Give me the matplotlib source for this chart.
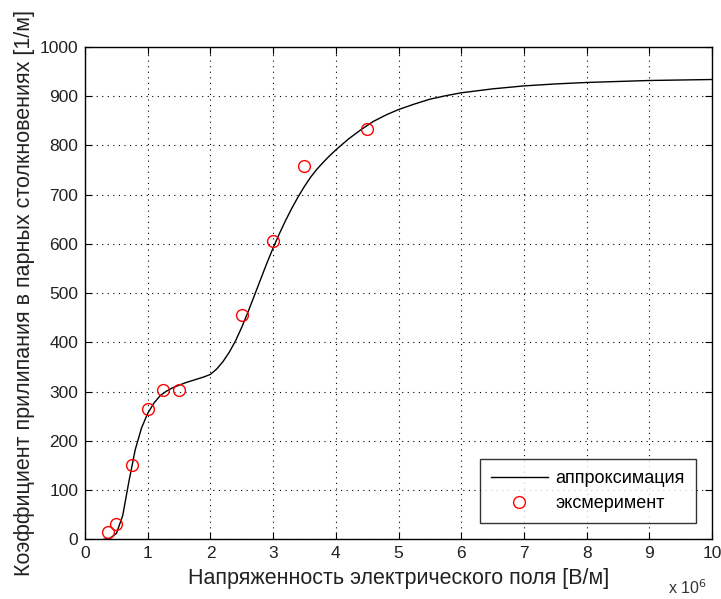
import matplotlib
matplotlib.use("Agg")
import matplotlib.pyplot as plt

plt.rcParams['font.family'] = ['Liberation Sans', 'DejaVu Sans']

# approximation curve (x in units of 1e6 V/m)
curve_x = [0.30, 0.40, 0.50, 0.60, 0.70, 0.80, 0.90, 1.00, 1.10, 1.20, 1.30, 1.40,
           1.50, 1.60, 1.70, 1.80, 1.90, 2.00, 2.10, 2.20, 2.30, 2.40, 2.50, 2.60,
           2.70, 2.80, 2.90, 3.00, 3.10, 3.20, 3.30, 3.40, 3.50, 3.60, 3.70, 3.80,
           3.90, 4.00, 4.20, 4.40, 4.60, 4.80, 5.00, 5.25, 5.50, 5.75, 6.00, 6.50,
           7.00, 7.50, 8.00, 8.50, 9.00, 9.50, 10.0]
curve_y = [0, 2, 12, 48, 118, 182, 226, 256, 277, 292, 301, 308,
           313, 318, 322, 326, 330, 335, 346, 361, 380, 403, 431, 462,
           495, 528, 561, 592, 621, 648, 673, 696, 717, 736, 752, 766,
           779, 791, 813, 832, 849, 862, 873, 884, 894, 901, 907, 915,
           921, 925, 928, 930, 932, 933, 934]

# experiment points
exp_x = [0.37, 0.5, 0.75, 1.0, 1.25, 1.5, 2.5, 3.0, 3.5, 4.5]
exp_y = [14, 32, 150, 265, 303, 303, 455, 606, 758, 833]

xticks = [0, 1, 2, 3, 4, 5, 6, 7, 8, 9, 10]
yticks = [0, 100, 200, 300, 400, 500, 600, 700, 800, 900, 1000]

fig = plt.figure(figsize=(7.21, 5.99), dpi=100)
ax = fig.add_axes([0.118, 0.0997, 0.8695, 0.8218])

ax.plot(curve_x, curve_y, color='black', lw=1.0, label='аппроксимация')
ax.plot(exp_x, exp_y, linestyle='none', marker='o', markersize=8.5,
        markerfacecolor='none', markeredgecolor='red', markeredgewidth=1.0,
        label='эксмеримент')

ax.set_xlim(0, 10)
ax.set_ylim(0, 1000)
ax.set_xticks(xticks)
ax.set_yticks(yticks)
ax.set_xticklabels([str(t) for t in xticks])
ax.set_yticklabels([str(t) for t in yticks])
ax.tick_params(direction='in', top=True, right=True, length=5, labelsize=12.5,
               colors='black', pad=5)
ax.tick_params(axis='x', labelcolor='#222222')
ax.tick_params(axis='y', labelcolor='#222222')
ax.grid(True, color='black', linestyle=(0, (1, 4)), linewidth=0.8)
for s in ax.spines.values():
    s.set_linewidth(1.0)

ax.set_xlabel('Напряженность электрического поля [В/м]', fontsize=15.5,
              labelpad=5, color='#222222')
ax.set_ylabel('Коэффициент прилипания в парных столкновениях [1/м]', fontsize=15.5,
              labelpad=3, color='#222222')
fig.text(0.926, 0.009, r'x 10$^6$', fontsize=11.5, color='#333333', va='baseline')

leg = ax.legend(loc='lower right', fontsize=13, frameon=True, fancybox=False,
                edgecolor='black', borderaxespad=0.9, handlelength=3.2,
                handletextpad=0.4, borderpad=0.6, labelspacing=0.45)
leg.get_frame().set_linewidth(1.0)

fig.savefig('out.png', dpi=100)
